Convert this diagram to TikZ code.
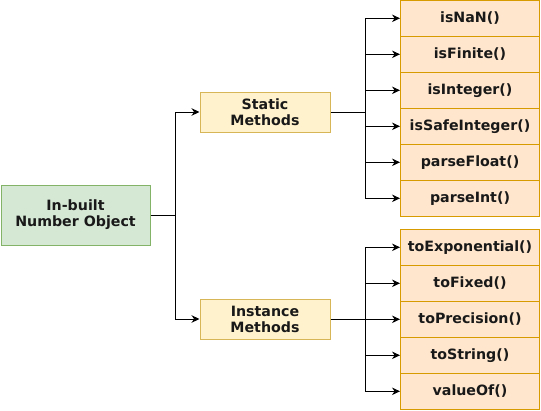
\documentclass[tikz,border=0pt]{standalone}
\usepackage{fontspec}
\setmainfont{DejaVu Sans}
\usetikzlibrary{arrows.meta}
\definecolor{gfill}{HTML}{D5E8D4}\definecolor{gline}{HTML}{82B366}
\definecolor{yfill}{HTML}{FFF2CC}\definecolor{yline}{HTML}{D6B656}
\definecolor{ofill}{HTML}{FFE6CC}\definecolor{oline}{HTML}{D79B00}
\begin{document}
\begin{tikzpicture}[x=1pt,y=-1pt,
  base/.style={draw,line width=1pt,inner sep=0pt,align=center,font=\fontsize{14.2}{16}\selectfont\bfseries,text=black!90},
  rootbox/.style={base,fill=gfill,draw=gline,minimum width=149pt,minimum height=60pt},
  groupbox/.style={base,fill=yfill,draw=yline,minimum width=130pt,minimum height=40pt},
  methbox/.style={base,fill=ofill,draw=oline,minimum width=139pt,minimum height=36pt},
  wire/.style={line width=0.9pt},
  conn/.style={wire,-{Stealth[length=8pt,width=7.5pt]}}]
\useasboundingbox (0,0) rectangle (541,410);
\node[rootbox] (root) at (75.5,215) {In-built\\Number Object};
\node[groupbox] (st) at (265,112) {Static\\Methods};
\node[groupbox] (in) at (265,319) {Instance\\Methods};
\node[methbox] (m1) at (470,18.3) {isNaN()};
\node[methbox] (m2) at (470,54.3) {isFinite()};
\node[methbox] (m3) at (470,90.3) {isInteger()};
\node[methbox] (m4) at (470,126.3) {isSafeInteger()};
\node[methbox] (m5) at (470,162.3) {parseFloat()};
\node[methbox] (m6) at (470,198.3) {parseInt()};
\node[methbox] (n1) at (470,247.3) {toExponential()};
\node[methbox] (n2) at (470,283.3) {toFixed()};
\node[methbox] (n3) at (470,319.3) {toPrecision()};
\node[methbox] (n4) at (470,355.3) {toString()};
\node[methbox] (n5) at (470,391.3) {valueOf()};
\coordinate (rb) at (175,215);
\coordinate (sb) at (365,112);
\coordinate (ib) at (365,319);
\draw[wire] (root.east) -- (rb);
\draw[conn] (rb) |- (st.west);
\draw[conn] (rb) |- (in.west);
\draw[wire] (st.east) -- (sb);
\draw[wire] (in.east) -- (ib);
\foreach \m in {m1,m2,m3,m4,m5,m6} \draw[conn] (sb) |- (\m.west);
\foreach \m in {n1,n2,n3,n4,n5} \draw[conn] (ib) |- (\m.west);
\end{tikzpicture}
\end{document}
